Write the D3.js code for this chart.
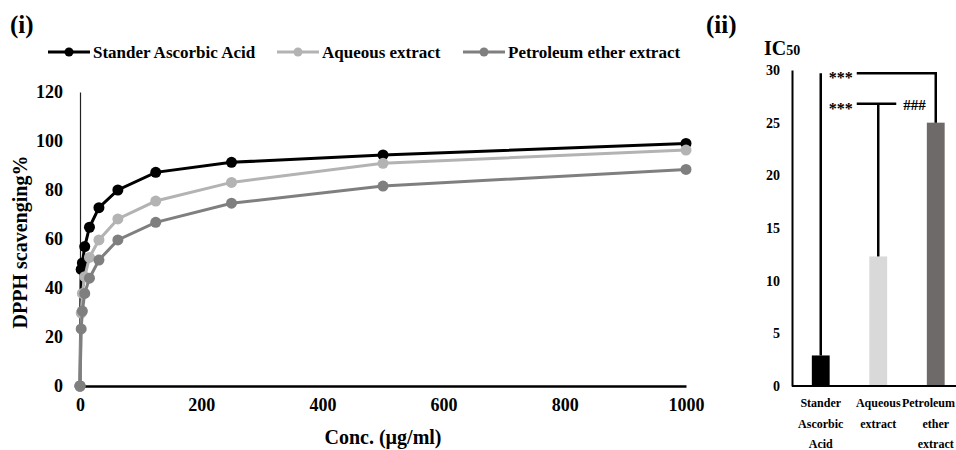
<!DOCTYPE html>
<html>
<head>
<meta charset="utf-8">
<script src="https://cdn.jsdelivr.net/npm/d3@7"></script>
<style>
  body { margin: 0; background: #fff; }
  svg { display: block; font-family: "Liberation Serif", "Times New Roman", serif; font-weight: bold; }
</style>
</head>
<body>
<div id="chart"></div>
<script>
// concentrations (µg/ml)
var conc = [0, 1.95, 3.9, 7.8, 15.6, 31.25, 62.5, 125, 250, 500, 1000];
// DPPH scavenging %
var ascorbic = [0, 47.6, 50.2, 56.9, 64.8, 72.8, 80.0, 87.2, 91.3, 94.3, 99.0];
var aqueous = [0, 29.8, 37.8, 44.6, 52.5, 59.6, 68.2, 75.5, 83.1, 90.9, 96.3];
var petroleum = [0, 23.3, 30.6, 37.8, 44.0, 51.4, 59.6, 66.8, 74.6, 81.6, 88.4];
var seriesNames = ["Stander Ascorbic Acid", "Aqueous extract", "Petroleum ether extract"];
var yTicks = [0, 20, 40, 60, 80, 100, 120];
var xTicks = [0, 200, 400, 600, 800, 1000];

// IC50 panel
var icCats = [["Stander", "Ascorbic", "Acid"], ["Aqueous", "extract"], ["Petroleum", "ether", "extract"]];
var ic50 = [2.9, 12.3, 25.0];
var icTicks = [0, 5, 10, 15, 20, 25, 30];
var bracketHigh = 29.7;   // *** ascorbic vs petroleum
var bracketLow = 26.8;    // *** / ### aqueous

var colors = ["#000000", "#b3b3b3", "#7f7f7f"];
var barColors = ["#000000", "#d9d9d9", "#6e6a6a"];

var svg = d3.select("#chart")
  .append("svg")
  .attr("width", 956)
  .attr("height", 450);

// ---------- panel (i) ----------
var x = d3.scaleLinear().domain([0, 1000]).range([80, 686]);
var y = d3.scaleLinear().domain([0, 120]).range([386, 92]);

svg.append("text").attr("x", 10).attr("y", 33).attr("font-size", 25).text("(i)");

// y axis
var yAxis = svg.append("g")
  .attr("transform", "translate(80,0)")
  .call(d3.axisLeft(y).tickValues(yTicks).tickSize(0).tickPadding(17));
yAxis.select(".domain").attr("stroke", "#222").attr("stroke-width", 1.2);
yAxis.selectAll("text")
  .attr("font-family", "Liberation Serif").attr("font-weight", "bold")
  .attr("font-size", 18).attr("fill", "#000");

// x axis
var xAxis = svg.append("g")
  .attr("transform", "translate(0,386)")
  .call(d3.axisBottom(x).tickValues(xTicks).tickFormat(d3.format("d")).tickSize(0).tickPadding(12));
xAxis.select(".domain").attr("stroke", "#000").attr("stroke-width", 2.5);
xAxis.selectAll("text")
  .attr("font-family", "Liberation Serif").attr("font-weight", "bold")
  .attr("font-size", 18).attr("fill", "#000");

svg.append("text")
  .attr("transform", "translate(27,242) rotate(-90)")
  .attr("text-anchor", "middle").attr("font-size", 20)
  .text("DPPH scavenging%");

svg.append("text")
  .attr("x", 383).attr("y", 444)
  .attr("text-anchor", "middle").attr("font-size", 20)
  .text("Conc. (\u00b5g/ml)");

var allSeries = [ascorbic, aqueous, petroleum];
var line = d3.line()
  .x(function(d, i) { return x(conc[i]); })
  .y(function(d) { return y(d); });

allSeries.forEach(function(s, k) {
  svg.append("path")
    .attr("d", line(s))
    .attr("fill", "none")
    .attr("stroke", colors[k])
    .attr("stroke-width", 3);
  svg.selectAll(".pt" + k)
    .data(s)
    .enter()
    .append("circle")
    .attr("class", "pt" + k)
    .attr("cx", function(d, i) { return x(conc[i]); })
    .attr("cy", function(d) { return y(d); })
    .attr("r", 5.5)
    .attr("fill", colors[k]);
});

// legend
var legendX = [48, 277, 463];
seriesNames.forEach(function(name, k) {
  var lx = legendX[k];
  svg.append("line")
    .attr("x1", lx).attr("x2", lx + 42)
    .attr("y1", 52).attr("y2", 52)
    .attr("stroke", colors[k]).attr("stroke-width", 3);
  svg.append("circle")
    .attr("cx", lx + 21).attr("cy", 52).attr("r", 4.5)
    .attr("fill", colors[k]);
  svg.append("text")
    .attr("x", lx + 45).attr("y", 58)
    .attr("font-size", 17)
    .text(name);
});

// ---------- panel (ii) ----------
svg.append("text").attr("x", 706).attr("y", 33).attr("font-size", 25).text("(ii)");
var ic = svg.append("text").attr("x", 764).attr("y", 55).attr("font-size", 20);
ic.append("tspan").text("IC");
ic.append("tspan").attr("font-size", 14).text("50");

var xb = d3.scaleBand().domain([0, 1, 2]).range([792, 964.5]).paddingInner(0.69).paddingOuter(0.345);
var yb = d3.scaleLinear().domain([0, 30]).range([386, 70]);

var ybAxis = svg.append("g")
  .attr("transform", "translate(792,0)")
  .call(d3.axisLeft(yb).tickValues(icTicks).tickSize(0).tickPadding(12));
ybAxis.select(".domain").attr("stroke", "#000").attr("stroke-width", 2);
ybAxis.selectAll("text")
  .attr("font-family", "Liberation Serif").attr("font-weight", "bold")
  .attr("font-size", 14).attr("fill", "#000");

svg.selectAll(".bar")
  .data(ic50)
  .enter()
  .append("rect")
  .attr("class", "bar")
  .attr("x", function(d, i) { return xb(i); })
  .attr("width", xb.bandwidth())
  .attr("y", function(d) { return yb(d); })
  .attr("height", function(d) { return yb(0) - yb(d); })
  .attr("fill", function(d, i) { return barColors[i]; });

svg.append("line")
  .attr("x1", 792).attr("x2", 956).attr("y1", 386).attr("y2", 386)
  .attr("stroke", "#000").attr("stroke-width", 2);

function cx(i) { return xb(i) + xb.bandwidth() / 2; }

var br = svg.append("g").attr("stroke", "#000").attr("stroke-width", 2.5).attr("fill", "none");
// ascorbic vs petroleum
br.append("path").attr("d",
  "M" + cx(0) + "," + yb(ic50[0]) + "V" + yb(bracketHigh));
br.append("path").attr("d",
  "M" + (cx(0) + 36) + "," + yb(bracketHigh) + "H" + cx(2) + "V" + yb(ic50[2]));
// aqueous
br.append("path").attr("d",
  "M" + (cx(0) + 36) + "," + yb(bracketLow) + "H" + (cx(1) + 18));
br.append("path").attr("d",
  "M" + cx(1) + "," + yb(bracketLow) + "V" + yb(ic50[1]));

svg.append("text").attr("x", cx(0) + 8).attr("y", yb(bracketHigh) + 10)
  .attr("font-size", 16).text("***");
svg.append("text").attr("x", cx(0) + 8).attr("y", yb(bracketLow) + 10)
  .attr("font-size", 16).text("***");
svg.append("text").attr("x", cx(1) + 25).attr("y", yb(bracketLow) + 6)
  .attr("font-size", 15).text("###");

// category labels (kept inside the right edge)
icCats.forEach(function(lines, i) {
  lines.forEach(function(t, j) {
    var tx = svg.append("text")
      .attr("x", cx(i)).attr("y", 407 + j * 20.5)
      .attr("text-anchor", "middle").attr("font-size", 12)
      .text(t);
    var w = tx.node().getComputedTextLength();
    if (cx(i) + w / 2 > 955) tx.attr("x", 955 - w / 2);
  });
});
</script>
</body>
</html>
